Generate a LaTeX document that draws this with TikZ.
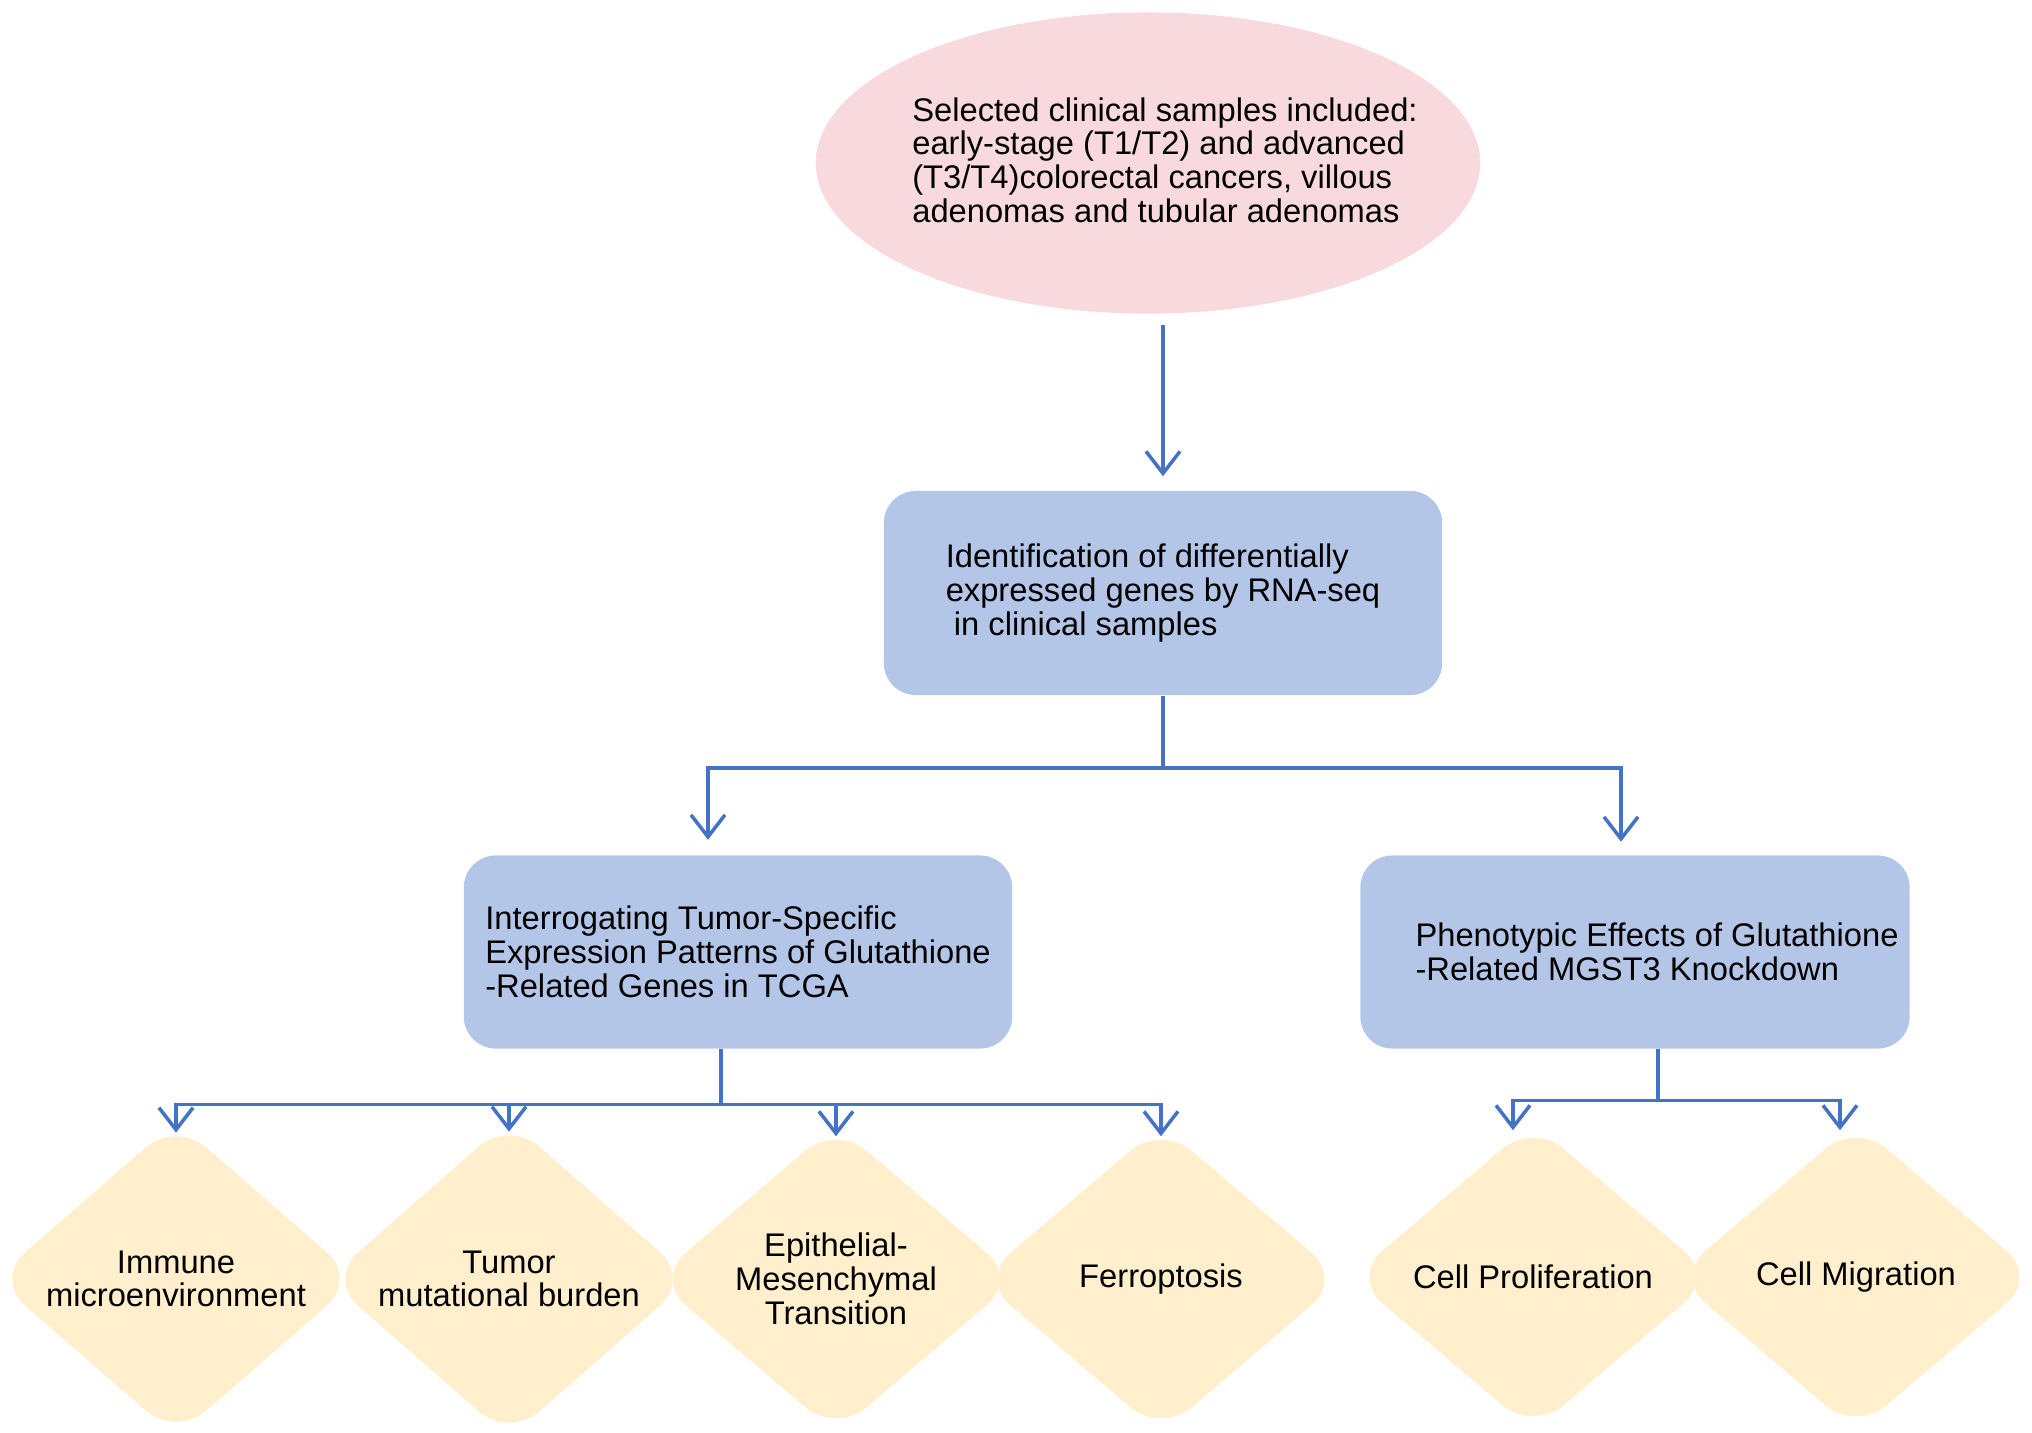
\documentclass[tikz,border=0pt]{standalone}
\usepackage{fontspec}
\setmainfont{Liberation Sans}
\usetikzlibrary{shapes.geometric,arrows.meta}

\definecolor{samplepink}{RGB}{248,217,222}
\definecolor{boxblue}{RGB}{180,198,232}
\definecolor{featyellow}{RGB}{255,239,204}
\definecolor{linkblue}{RGB}{68,114,196}

\tikzset{
  samplebox/.style={ellipse, fill=samplepink, minimum width=6.64cm, minimum height=3.01cm, inner sep=0pt},
  stagebox/.style={rectangle, rounded corners=0.32cm, fill=boxblue, align=left, inner sep=0pt},
  featbox/.style={diamond, rounded corners=0.4cm, fill=featyellow, minimum width=3.63cm, minimum height=3.09cm, inner sep=0pt, align=center},
  link/.style={draw=linkblue, line width=1pt},
  arrowlink/.style={link, -{Straight Barb[length=0.22cm,width=0.34cm]}}
}

\begin{document}
\begin{tikzpicture}[x=0.01cm, y=-0.01cm, font=\fontsize{9.3}{9.6}\selectfont]
\useasboundingbox (0,0) rectangle (2032,1432);

\node[samplebox] (samples) at (1148,163) {};
\node[align=left, inner sep=0pt] (samplestext) at (1165,160) {Selected clinical samples included:\\early-stage (T1/T2) and advanced\\(T3/T4)colorectal cancers, villous\\adenomas and tubular adenomas};

\node[stagebox, minimum width=5.58cm, minimum height=2.04cm] (rnaseq) at (1163,593) {Identification of differentially\\expressed genes by RNA-seq\\\hspace*{0.25em}in clinical samples};
\node[stagebox, minimum width=5.48cm, minimum height=1.93cm] (tcga) at (738,952) {Interrogating Tumor-Specific\\Expression Patterns of Glutathione\\-Related Genes in TCGA};
\node[stagebox, minimum width=5.49cm, minimum height=1.93cm] (mgst) at (1635,952) {\hspace*{0.44cm}Phenotypic Effects of Glutathione\\\hspace*{0.44cm}-Related MGST3 Knockdown};

\node[featbox] (immune) at (176,1279) {Immune\\microenvironment};
\node[featbox] (tmb) at (509,1279) {Tumor\\mutational burden};
\node[featbox] (emt) at (836,1279) {Epithelial-\\Mesenchymal\\Transition};
\node[featbox] (ferro) at (1161,1279) {Ferroptosis};
\node[featbox] (prolif) at (1533,1277) {Cell Proliferation};
\node[featbox] (migr) at (1856,1277) {Cell Migration};

\draw[arrowlink, shorten <=0.11cm, shorten >=0.14cm] (rnaseq.north |- samples.south) -- (rnaseq.north);

\draw[arrowlink, shorten >=0.15cm] (rnaseq.south) -- ++(0,72) -| ([xshift=-0.3cm]tcga.north);
\draw[arrowlink, shorten >=0.13cm] (rnaseq.south) -- ++(0,72) -| ([xshift=-0.14cm]mgst.north);

\draw[arrowlink] ([xshift=-0.17cm]tcga.south) -- ++(0,55) -| ([yshift=-0.125cm]immune.north);
\draw[arrowlink] ([xshift=-0.17cm]tcga.south) -- ++(0,55) -| ([yshift=-0.125cm]tmb.north);
\draw[arrowlink] ([xshift=-0.17cm]tcga.south) -- ++(0,55) -| ([yshift=-0.125cm]emt.north);
\draw[arrowlink] ([xshift=-0.17cm]tcga.south) -- ++(0,55) -| ([yshift=-0.125cm]ferro.north);

\draw[arrowlink] ([xshift=0.23cm]mgst.south) -- ++(0,51) -| ([shift={(-0.2cm,-0.085cm)}]prolif.north);
\draw[arrowlink] ([xshift=0.23cm]mgst.south) -- ++(0,51) -| ([shift={(-0.16cm,-0.085cm)}]migr.north);
\end{tikzpicture}
\end{document}
